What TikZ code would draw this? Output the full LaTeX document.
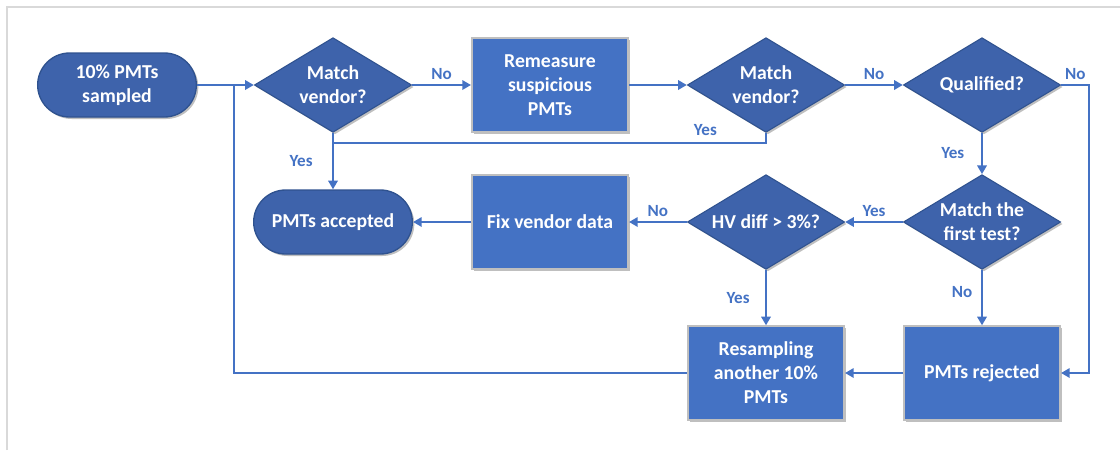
\documentclass[tikz,border=0pt]{standalone}
\usepackage{fontspec}
\setmainfont{Carlito}
\usetikzlibrary{shapes.geometric,arrows.meta,shadows}

\definecolor{boxblue}{HTML}{4472C4}
\definecolor{decblue}{HTML}{3E63AB}
\definecolor{decline}{HTML}{2F528F}
\definecolor{boxline}{HTML}{BFBFBF}
\definecolor{framegray}{HTML}{D9D9D9}

\begin{document}
\begin{tikzpicture}[x=0.75pt,y=-0.75pt,
  every node/.style={font=\bfseries\fontsize{14.8}{18}\selectfont, text=white, align=center},
  softshadow/.style={drop shadow={shadow xshift=1.5pt, shadow yshift=-1.5pt, fill=black, opacity=0.25}},
  terminal/.style={rectangle, draw=decline, line width=1pt, fill=decblue, rounded corners=24pt,
    minimum width=119pt, minimum height=48pt, softshadow},
  decision/.style={diamond, draw=decline, line width=0.8pt, fill=decblue, aspect=1.65,
    inner sep=0pt, minimum width=118pt, minimum height=71pt, softshadow},
  process/.style={rectangle, draw=boxline, line width=1.5pt, fill=boxblue,
    minimum width=117pt, minimum height=70pt, softshadow},
  flow/.style={draw=boxblue, line width=1.9pt, -{Triangle[length=6.5pt,width=7pt]}},
  link/.style={draw=boxblue, line width=1.9pt},
  answer/.style={font=\bfseries\fontsize{12.8}{15}\selectfont, text=boxblue},
]
\useasboundingbox (0,0) rectangle (1120,450);
\draw[framegray, line width=1pt] (7,450) -- (7,7) -- (1120,7);

% top row
\node[terminal] (start) at (117,85) {10\% PMTs\\sampled};
\node[decision] (vendorA) at (333,85) {Match\\vendor?};
\node[process] (remeasure) at (550,85) {Remeasure\\suspicious\\PMTs};
\node[decision] (vendorB) at (766,85) {Match\\vendor?};
\node[decision] (qualified) at (982,85) {Qualified?};

% middle row
\node[terminal] (accepted) at (333,222) {PMTs accepted};
\node[process] (fixdata) at (550,222) {Fix vendor data};
\node[decision] (hvdiff) at (766,222) {HV diff > 3\%?};
\node[decision] (firsttest) at (982,222) {Match the\\first test?};

% bottom row
\node[process] (resample) at (766,373) {Resampling\\another 10\%\\PMTs};
\node[process] (rejected) at (982,373) {PMTs rejected};

\coordinate (yesjoin) at (333,143);
\coordinate (loopjoin) at (234,85);

\path (start) edge[flow] (vendorA);
\path (vendorA) edge[flow] node[answer, above] {No} (remeasure);
\path (remeasure) edge[flow] (vendorB);
\path (vendorB) edge[flow] node[answer, above] {No} (qualified);
\path (vendorA) edge[flow] node[answer, left=11pt] {Yes} (accepted);
\draw[link] (vendorB.south) |- node[answer, pos=0.57, above=1pt] {Yes} (yesjoin);
\draw[flow] (qualified.east) -- node[answer, above] {No} ++(28,0) |- (rejected.east);
\path (qualified) edge[flow] node[answer, left=9pt] {Yes} (firsttest);
\path (firsttest) edge[flow] node[answer, above] {Yes} (hvdiff);
\path (firsttest) edge[flow] node[answer, pos=0.4, left=3pt] {No} (rejected);
\path (hvdiff) edge[flow] node[answer, above] {No} (fixdata);
\path (fixdata) edge[flow] (accepted);
\path (hvdiff) edge[flow] node[answer, left=8pt] {Yes} (resample);
\path (rejected) edge[flow] (resample);
\draw[link] (resample.west) -| (loopjoin);
\end{tikzpicture}
\end{document}
